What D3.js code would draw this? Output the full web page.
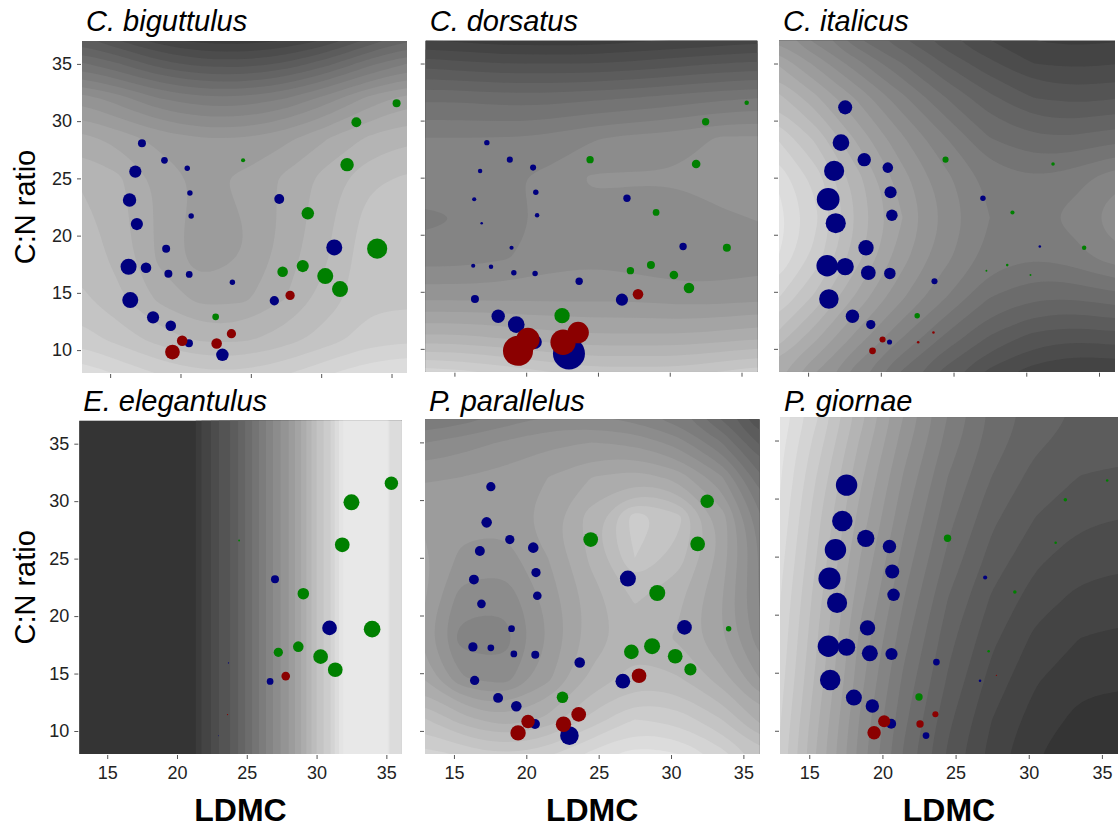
<!DOCTYPE html>
<html lang="en">
<head>
  <meta charset="utf-8" />
  <title>LDMC vs C:N ratio</title>
  <style>
    body { margin: 0; background: #fff; }
    text { font-family: "Liberation Sans", Arial, sans-serif; }
  </style>
  <script src="https://d3js.org/d3.v7.min.js"></script>
</head>
<body>
<script>

// ---- data ----
const species = ["C. biguttulus", "C. dorsatus", "C. italicus",
                 "E. elegantulus", "P. parallelus", "P. giornae"];

// plant points (same in every panel): 23 of group A, 5 of group B, 11 of group C
const ldmc = [17.26, 18.86, 20.48, 16.79, 20.67, 16.38, 20.76, 16.90, 18.98, 16.31, 17.55, 19.14,
              20.62, 23.69, 16.43, 18.05, 19.31, 22.98, 27.02, 30.93, 26.67, 17.55, 20.60,
              19.43, 20.12, 22.57, 23.62, 27.79,
              24.45, 35.36, 32.50, 31.84, 29.05, 33.98, 27.26, 28.69, 30.29, 31.34, 22.50];
const cnRatio = [28.07, 26.58, 25.88, 25.59, 23.72, 23.11, 21.71, 21.01, 18.86, 17.28, 17.20, 16.67,
                 16.61, 15.92, 14.37, 12.86, 12.13, 9.59, 23.20, 18.97, 14.31, 31.16, 10.60,
                 9.83, 10.82, 10.58, 11.43, 14.78,
                 26.58, 31.56, 29.90, 26.20, 21.95, 18.86, 16.85, 17.34, 16.47, 15.33, 12.91];
const group = [].concat(Array(23).fill("A"), Array(5).fill("B"), Array(11).fill("C"));

// relative consumption per grasshopper species (0-100), same order as the points
const consumption = {
  "C. biguttulus": [25, 21, 17, 38, 17, 42, 17, 38, 25, 50, 33, 25, 21, 17, 50, 38, 33, 39, 31, 50, 29, 0, 25,
                    46, 33, 33, 29, 29,
                    13, 25, 31, 42, 39, 63, 33, 38, 50, 50, 21],
  "C. dorsatus":   [17, 19, 19, 14, 17, 13, 14, 8, 13, 13, 14, 17, 17, 23, 25, 42, 52, 100, 23, 23, 38, 0, 44,
                    94, 73, 79, 67, 33,
                    23, 14, 23, 27, 21, 25, 23, 25, 27, 33, 48],
  "C. italicus":   [52, 42, 33, 63, 38, 71, 36, 63, 48, 67, 54, 46, 36, 19, 61, 42, 29, 0, 17, 8, 0, 44, 16,
                    21, 19, 8, 8, 0,
                    19, 0, 0, 11, 13, 14, 6, 8, 6, 0, 17],
  "E. elegantulus":[0, 0, 0, 0, 0, 0, 0, 0, 0, 0, 0, 0, 0, 4, 0, 0, 0, 3, 25, 46, 21, 0, 0,
                    0, 0, 0, 4, 27,
                    6, 42, 50, 46, 36, 52, 29, 33, 46, 46, 0],
  "P. parallelus": [33, 29, 33, 31, 29, 31, 27, 27, 21, 29, 21, 21, 25, 33, 29, 31, 33, 58, 50, 46, 46, 29, 31,
                    48, 42, 48, 46, 46,
                    46, 0, 42, 46, 50, 17, 46, 50, 46, 38, 36],
  "P. giornae":    [64, 54, 42, 67, 44, 69, 39, 63, 48, 67, 54, 50, 38, 21, 64, 50, 42, 21, 13, 0, 8, 67, 31,
                    42, 38, 23, 19, 4,
                    23, 8, 11, 8, 11, 0, 8, 0, 0, 0, 23]
};

// fitted surface (grey level) on a coarse grid: columns = gridLdmc, rows = gridCn (top to bottom)
const gridLdmc = [12.5, 15.5, 18.5, 21.5, 24.5, 27.5, 30.5, 33.5, 36.6];
const gridCn   = [37.5, 35, 32, 28.5, 25, 21.5, 18, 14.5, 11, 7.5];

const surfBiguttulus = [
  [ 88,  75,  62,  55,  55,  58,  68,  85, 100],
  [115, 105,  92,  85,  84,  90, 102, 118, 130],
  [150, 140, 128, 122, 122, 128, 140, 155, 165],
  [172, 165, 157, 152, 152, 158, 168, 178, 183],
  [184, 178, 166, 158, 162, 170, 180, 190, 194],
  [188, 180, 166, 156, 160, 170, 182, 196, 200],
  [190, 182, 166, 155, 160, 172, 184, 198, 198],
  [195, 186, 174, 165, 166, 176, 188, 198, 198],
  [205, 197, 188, 182, 182, 188, 196, 204, 206],
  [226, 218, 210, 205, 205, 210, 218, 225, 228]];
const surfDorsatus = [
  [ 60,  58,  55,  55,  55,  58,  60,  62,  65],
  [ 85,  82,  80,  80,  80,  82,  85,  88,  90],
  [110, 110, 108, 108, 110, 112, 115, 118, 120],
  [128, 128, 128, 130, 135, 138, 140, 145, 145],
  [135, 135, 135, 138, 145, 145, 145, 150, 152],
  [125, 128, 132, 138, 142, 140, 140, 142, 145],
  [132, 132, 135, 140, 142, 140, 138, 138, 140],
  [150, 150, 150, 150, 150, 150, 148, 148, 150],
  [178, 178, 175, 172, 170, 170, 170, 172, 175],
  [218, 215, 210, 205, 200, 200, 200, 205, 210]];
const surfItalicus = [
  [150, 130, 110,  95,  80,  70,  62,  60,  62],
  [170, 150, 130, 112,  95,  82,  72,  70,  72],
  [190, 170, 150, 130, 112,  98,  88,  85,  88],
  [210, 190, 165, 145, 128, 112, 105, 105, 110],
  [225, 205, 178, 155, 138, 125, 120, 125, 135],
  [232, 210, 182, 160, 142, 128, 125, 132, 145],
  [228, 205, 178, 155, 138, 125, 120, 125, 135],
  [212, 190, 165, 145, 128, 112, 105, 105, 110],
  [192, 170, 148, 128, 110,  95,  85,  82,  85],
  [170, 150, 128, 108,  90,  75,  65,  60,  62]];
const surfParallelus = [
  [115, 120, 128, 135, 135, 130, 120, 100,  70],
  [135, 140, 145, 150, 152, 150, 140, 120,  90],
  [150, 152, 155, 160, 168, 172, 165, 145, 110],
  [160, 155, 155, 165, 180, 205, 195, 165, 125],
  [165, 150, 148, 160, 178, 200, 188, 165, 130],
  [165, 140, 138, 155, 172, 185, 178, 160, 130],
  [160, 132, 132, 152, 172, 180, 175, 160, 135],
  [170, 145, 140, 158, 178, 188, 185, 172, 148],
  [195, 180, 170, 178, 195, 208, 205, 192, 170],
  [215, 210, 205, 210, 222, 232, 228, 215, 195]];
const surfGiornae = [
  [235, 210, 180, 152, 128, 110, 100,  95,  95],
  [232, 205, 175, 148, 125, 108,  98,  92,  92],
  [230, 200, 170, 143, 120, 104,  93,  88,  86],
  [228, 195, 165, 138, 115,  98,  88,  82,  80],
  [225, 192, 160, 133, 110,  93,  82,  76,  74],
  [222, 188, 155, 128, 104,  87,  76,  70,  68],
  [220, 185, 150, 123,  99,  82,  70,  64,  62],
  [218, 182, 147, 118,  95,  77,  65,  58,  57],
  [215, 178, 143, 114,  90,  72,  60,  54,  53],
  [212, 175, 140, 110,  86,  68,  56,  52,  52]];

// E. elegantulus surface only changes along LDMC
const gridLdmcEleg = [12, 21.3, 21.5, 22, 23, 24, 25, 26, 27, 28, 29, 30, 31, 31.9, 35.1, 35.3, 37];
const gridCnEleg   = [38, 7];
const profileEleg  = [54, 54, 62, 66, 80, 90, 106, 122, 138, 152, 170, 192, 208, 232, 232, 218, 218];

const xTicks = [15, 20, 25, 30, 35];
const yTicks = [10, 15, 20, 25, 30, 35];

// ---- drawing ----
const svg = d3.select("body").append("svg")
  .attr("width", 1119).attr("height", 835);

const surfaces = {
  "C. biguttulus":  {xs: gridLdmc, ys: gridCn, z: surfBiguttulus, curve: d3.curveBasisClosed},
  "C. dorsatus":    {xs: gridLdmc, ys: gridCn, z: surfDorsatus,   curve: d3.curveBasisClosed},
  "C. italicus":    {xs: gridLdmc, ys: gridCn, z: surfItalicus,   curve: d3.curveBasisClosed},
  "E. elegantulus": {xs: gridLdmcEleg, ys: gridCnEleg, z: [profileEleg, profileEleg], curve: d3.curveLinearClosed},
  "P. parallelus":  {xs: gridLdmc, ys: gridCn, z: surfParallelus, curve: d3.curveBasisClosed},
  "P. giornae":     {xs: gridLdmc, ys: gridCn, z: surfGiornae,    curve: d3.curveBasisClosed}
};

// panel boxes [left, right, top, bottom]
const boxes = [
  [82, 407, 41, 373], [425.7, 757.3, 40.7, 371.7], [779, 1115, 40.7, 371.7],
  [79.3, 401.7, 420.7, 754], [425, 759.3, 419.3, 754], [780, 1118, 417.3, 754]
];

const colour = {A: "#00007f", B: "#8b0000", C: "#008000"};
const drawOrder = {A: 0, C: 1, B: 2};
const rScale = d3.scaleLinear().domain([0, 100]).range([0, 16]);
const levels = d3.range(48, 244, 8);
const grey = v => d3.rgb(v, v, v).toString();

// repeat the edge rows/columns outwards so smoothed rings stay outside the plot
function padGrid(xs, ys, z) {
  const n = xs.length, m = ys.length;
  const xsP = [xs[0] - 4].concat(xs, [xs[n - 1] + 4]);
  const ysP = [ys[0] + 4].concat(ys, [ys[m - 1] - 4]);
  const rows = z.map(r => [r[0]].concat(r, [r[n - 1]]));
  const zP = [rows[0]].concat(rows, [rows[m - 1]]);
  return {xs: xsP, ys: ysP, z: zP};
}

species.forEach(function(sp, k) {
  const [L, R, T, B] = boxes[k];
  const col = k % 3, row = Math.floor(k / 3);

  const x = d3.scaleLinear().domain([13, 36.1]).range([L, R]);
  const y = d3.scaleLinear().domain([8, 37]).range([B, T]);

  const g = svg.append("g");

  svg.append("clipPath").attr("id", "clip" + k)
    .append("rect").attr("x", L).attr("y", T).attr("width", R - L).attr("height", B - T);

  // background surface as filled contours
  const s0 = surfaces[sp];
  const s = padGrid(s0.xs, s0.ys, s0.z);
  const nx = s.xs.length, ny = s.ys.length;
  const values = s.z.flat();
  const ix = d3.scaleLinear().domain(d3.range(nx)).range(s.xs).clamp(true);
  const iy = d3.scaleLinear().domain(d3.range(ny)).range(s.ys).clamp(true);
  const ring = d3.line()
    .x(p => x(ix(p[0] - 0.5)))
    .y(p => y(iy(p[1] - 0.5)))
    .curve(s0.curve);

  const bg = g.append("g").attr("clip-path", `url(#clip${k})`);
  bg.append("rect")
    .attr("x", L).attr("y", T).attr("width", R - L).attr("height", B - T)
    .attr("fill", grey(d3.min(values)));

  const vmax = d3.max(values);
  d3.contours().size([nx, ny]).thresholds(levels)(values).forEach(function(c) {
    if (!c.coordinates.length) return;
    const d = c.coordinates.map(poly => poly.map(r => ring(r.slice(0, -1))).join("")).join("");
    bg.append("path")
      .attr("d", d)
      .attr("fill", grey(Math.min(c.value + 4, vmax)))
      .attr("fill-rule", "evenodd");
  });

  // points
  const pts = ldmc.map((v, i) => ({x: v, y: cnRatio[i], g: group[i], v: consumption[sp][i]}))
    .filter(d => d.v > 0)
    .sort((a, b) => drawOrder[a.g] - drawOrder[b.g]);

  g.append("g").attr("clip-path", `url(#clip${k})`)
    .selectAll("circle")
    .data(pts)
    .join("circle")
      .attr("cx", d => x(d.x))
      .attr("cy", d => y(d.y))
      .attr("r", d => rScale(d.v))
      .attr("fill", d => colour[d.g]);

  // axes
  const ax = g.append("g")
    .attr("transform", `translate(0,${B + 1})`)
    .call(d3.axisBottom(x).tickValues(xTicks).tickSize(4).tickPadding(7)
      .tickFormat(row === 1 ? d3.format("d") : ""));
  const ay = g.append("g")
    .attr("transform", `translate(${L - 1},0)`)
    .call(d3.axisLeft(y).tickValues(yTicks).tickSize(4).tickPadding(5)
      .tickFormat(col === 0 ? d3.format("d") : ""));
  [ax, ay].forEach(a => {
    a.select(".domain").remove();
    a.selectAll(".tick line").attr("stroke", "#555");
    a.selectAll(".tick text")
      .attr("fill", "#222")
      .style("font-size", "18px")
      .style("font-family", "'Liberation Sans', Arial, sans-serif");
  });

  // title
  svg.append("text")
    .attr("x", L + 4).attr("y", row === 0 ? 31 : 411)
    .attr("font-size", 29)
    .attr("font-style", "italic")
    .attr("fill", "#000")
    .text(sp);

  if (col === 0) {
    svg.append("text")
      .attr("transform", `translate(35,${(T + B) / 2}) rotate(-90)`)
      .attr("text-anchor", "middle")
      .attr("font-size", 29)
      .attr("fill", "#000")
      .text("C:N ratio");
  }
  if (row === 1) {
    svg.append("text")
      .attr("x", (L + R) / 2).attr("y", 821)
      .attr("text-anchor", "middle")
      .attr("font-size", 32)
      .attr("font-weight", "bold")
      .attr("fill", "#000")
      .text("LDMC");
  }
});

</script>
</body>
</html>
